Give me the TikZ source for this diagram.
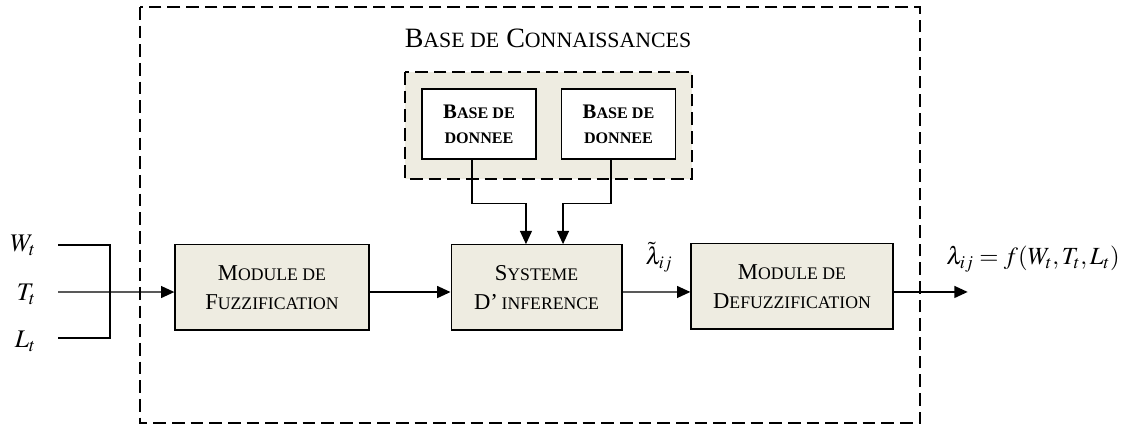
\documentclass[tikz,border=0pt]{standalone}
\usepackage{mathptmx}
\usepackage{fontspec}
\setmainfont{Liberation Serif}
\usepackage{graphicx}
\usetikzlibrary{arrows.meta,positioning}
\definecolor{boxfill}{HTML}{EEECE1}
\newcommand{\smc}[1]{\scalebox{0.78}{#1}}
\tikzset{
  blk/.style={draw,line width=1pt,fill=boxfill,align=center,font=\fontsize{17}{22}\selectfont},
  dbbox/.style={draw,line width=1pt,fill=white,align=center,font=\bfseries\fontsize{15.5}{19}\selectfont,minimum width=85.5pt,minimum height=52.5pt},
  arr/.style={line width=1pt,-{Triangle[length=10pt,width=9pt]}},
  frame/.style={line width=1pt,dash pattern=on 9.5pt off 4.5pt},
  lbl/.style={inner sep=0pt,font=\fontsize{19}{21}\selectfont},
}
\begin{document}
\begin{tikzpicture}[x=0.75pt,y=-0.75pt]
\useasboundingbox (0,0) rectangle (1132,427);
%frames
\draw[frame] (140,7) rectangle (920,423);
\node[font=\fontsize{21}{24}\selectfont] (kbtitle) at (548,38) {B\smc{ASE DE} C\smc{ONNAISSANCES}};
\draw[frame,fill=boxfill] (405,72) rectangle (692,179);
%bases
\node[dbbox] (db1) at (479,124) {B\smc{ASE DE}\\\smc{DONNEE}};
\node[dbbox] (db2) at (618.5,124) {B\smc{ASE DE}\\\smc{DONNEE}};
%blocks
\node[blk,minimum width=145.5pt,minimum height=64pt] (fuzz) at (272,287.5) {M\smc{ODULE DE}\\F\smc{UZZIFICATION}};
\node[blk,minimum width=128pt,minimum height=64pt] (sys) at (536.5,287.5) {S\smc{YSTEME}\\D'\,\smc{INFERENCE}};
\node[blk,minimum width=151.5pt,minimum height=64pt] (defuzz) at (792,286.5) {M\smc{ODULE DE}\\D\smc{EFUZZIFICATION}};
%inputs
\node[lbl,anchor=east] (W) at (36,245) {$W_t$};
\node[lbl,anchor=east] (T) at (36,294) {$T_t$};
\node[lbl,anchor=east] (L) at (36,341) {$L_t$};
\coordinate (w0) at (58,245);
\coordinate (t0) at (58,292);
\coordinate (l0) at (58,338);
\draw[line width=1pt] (w0)--++(52,0)--++(0,93)--(l0);
\draw[arr] (t0)--([yshift=-3.4pt]fuzz.west);
%links
\draw[arr] ([yshift=-3.4pt]fuzz.east)--([yshift=-3.4pt]sys.west);
\draw[arr] ([yshift=-3.4pt]sys.east)--([yshift=-4.1pt]defuzz.west);
\draw[arr] ([xshift=-5.3pt]db1.south)--++(0,44)-|([xshift=-7.9pt]sys.north);
\draw[arr] ([xshift=-5.6pt]db2.south)--++(0,44)-|([xshift=19.9pt]sys.north);
\draw[arr] ([yshift=-4.1pt]defuzz.east)--++(74,0) coordinate (out);
%labels
\node[lbl,font=\fontsize{18}{20}\selectfont] (lt) at (659,257) {$\tilde{\lambda}_{ij}$};
\node[lbl,font=\fontsize{18.5}{20}\selectfont] (lout) at (1033,259) {$\lambda_{ij}=f(W_t,T_t,L_t)$};
\end{tikzpicture}
\end{document}
